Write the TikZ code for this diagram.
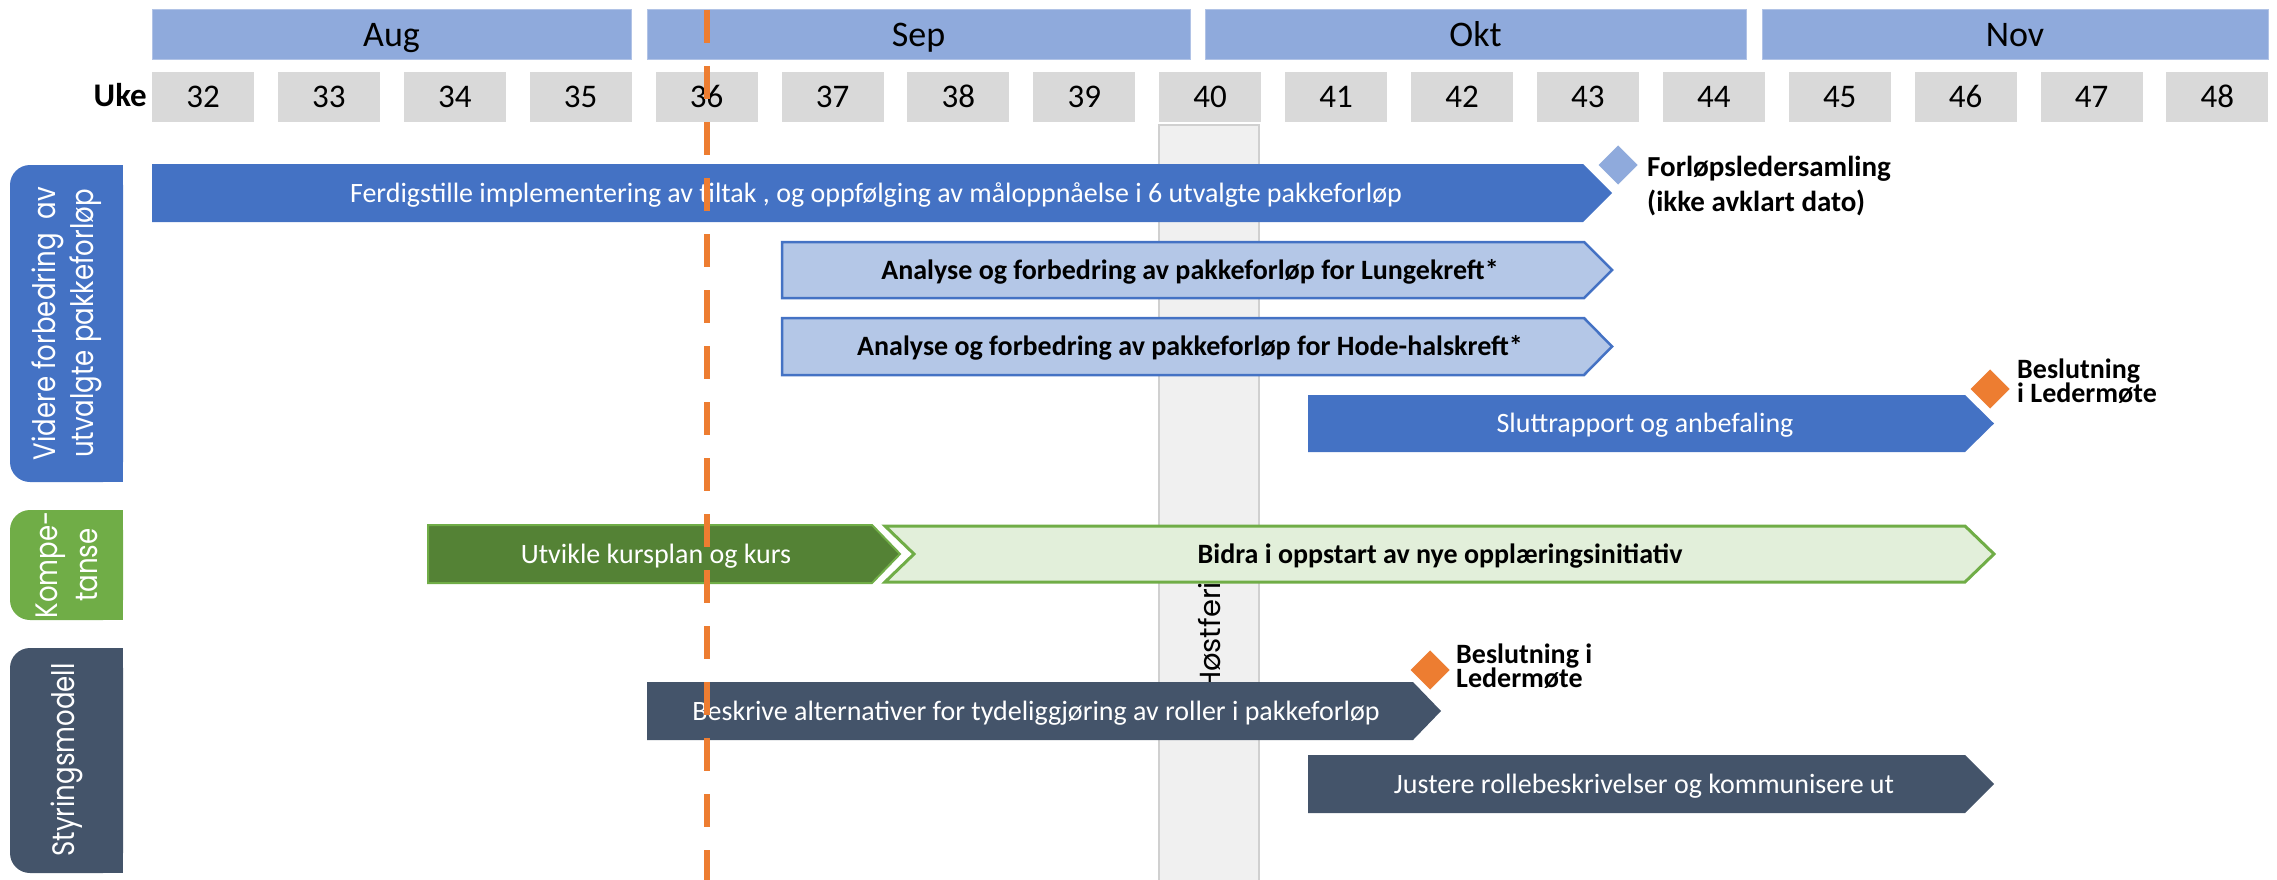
\documentclass[tikz,border=0pt]{standalone}
\usepackage{fontspec}
\setmainfont{Carlito}
\newfontfamily\labfont{Poppins}
\usepackage{graphicx}
\usetikzlibrary{shapes.geometric}
\definecolor{monthblue}{HTML}{8FAADC}
\definecolor{weekgray}{HTML}{D9D9D9}
\definecolor{barblue}{HTML}{4472C4}
\definecolor{lightblue}{HTML}{B4C7E7}
\definecolor{lanegreen}{HTML}{70AD47}
\definecolor{darkgreen}{HTML}{548235}
\definecolor{palegreen}{HTML}{E2EFDA}
\definecolor{slate}{HTML}{44546A}
\definecolor{msorange}{HTML}{ED7D31}
\definecolor{holgray}{HTML}{F0F0F0}
\definecolor{holline}{HTML}{D0D0D0}
\newcommand\tightlines{\lineskiplimit=-50pt\relax}
\tikzset{
 weekbox/.style={fill=weekgray, minimum width=102pt, minimum height=50pt, inner sep=0pt, text height=22pt, text depth=0pt, font=\fontsize{33}{36}\selectfont},
 monthbox/.style={fill=monthblue, draw=monthblue!70!white, line width=0.8pt, minimum height=50pt, inner sep=0pt, text height=26pt, text depth=0pt, font=\fontsize{36}{40}\selectfont},
 bartxt/.style={inner sep=0pt, text height=18pt, text depth=0pt, font=\fontsize{28}{32}\selectfont},
 lanelab/.style={rotate=90, text=white, align=center, inner sep=0pt, font=\labfont\fontsize{31}{38}\selectfont},
 ms/.style={diamond, draw=white, line width=3pt, minimum width=45pt, minimum height=45pt, inner sep=0pt},
 mslab/.style={anchor=north west, inner sep=0pt, align=left, font=\bfseries\fontsize{28}{24}\selectfont\tightlines}
}
\begin{document}
\begin{tikzpicture}[x=1pt,y=-1pt]
\useasboundingbox (0,0) rectangle (2277,880);
% header
\node[monthbox, minimum width=479pt] (aug) at (391.5,34) {Aug};
\node[monthbox, minimum width=543pt] (sep) at (918.5,34) {Sep};
\node[monthbox, minimum width=541pt] (okt) at (1475.5,34) {Okt};
\node[monthbox, minimum width=506pt] (nov) at (2015,34) {Nov};
\node[anchor=base east, inner sep=0pt, font=\bfseries\fontsize{33}{36}\selectfont] (uke) at (147,107) {Uke};
\foreach \w [count=\i from 0] in {32,...,48}
  \node[weekbox] (w\w) at ({203+\i*125.9},97) {\w};
% autumn holiday column
\filldraw[fill=holgray, draw=holline, line width=2pt] (1159,125) rectangle (1259,890);
\node[rotate=90, anchor=west, inner sep=0pt, font=\labfont\fontsize{29}{32}\selectfont] (host) at (1210,692) {Høstferie};
% lane labels
\fill[barblue, rounded corners=20pt] (10,165) rectangle (123,482);
\fill[barblue] (70,165) rectangle (123,482);
\node[lanelab] (lane1) at (66.5,323.5) {\scalebox{0.84}[1]{Videre forbedring\ \ av}\\\scalebox{0.84}[1]{utvalgte pakkeforløp}};
\fill[lanegreen, rounded corners=20pt] (10,510) rectangle (123,620);
\fill[lanegreen] (70,510) rectangle (123,620);
\node[lanelab, font=\labfont\fontsize{31}{40}\selectfont] (lane2) at (66.5,565) {\scalebox{0.84}[1]{Kompe-}\\\scalebox{0.84}[1]{tanse}};
\fill[slate, rounded corners=20pt] (10,648) rectangle (123,873);
\fill[slate] (70,648) rectangle (123,873);
\node[lanelab] (lane3) at (66.5,760) {\scalebox{0.84}[1]{Styringsmodell}};
% lane 1 bars
\fill[barblue] (152,164) -- (1583,164) -- (1612,193) -- (1583,222) -- (152,222) -- cycle;
\node[bartxt, text=white] (b1) at (876,193) {Ferdigstille implementering av tiltak , og oppfølging av måloppnåelse i 6 utvalgte pakkeforløp};
\filldraw[fill=lightblue, draw=barblue, line width=2.5pt] (782,242) -- (1584,242) -- (1612,270) -- (1584,298) -- (782,298) -- cycle;
\node[bartxt, font=\bfseries\fontsize{28}{32}\selectfont] (b2) at (1190,270) {Analyse og forbedring av pakkeforløp for Lungekreft*};
\filldraw[fill=lightblue, draw=barblue, line width=2.5pt] (782,318) -- (1584,318) -- (1612,346.5) -- (1584,375) -- (782,375) -- cycle;
\node[bartxt, font=\bfseries\fontsize{28}{32}\selectfont] (b3) at (1190,346.5) {Analyse og forbedring av pakkeforløp for Hode-halskreft*};
\fill[barblue] (1308,395) -- (1965,395) -- (1994,423.5) -- (1965,452) -- (1308,452) -- cycle;
\node[bartxt, text=white] (b4) at (1645,423.5) {Sluttrapport og anbefaling};
% lane 2 bars
\filldraw[fill=darkgreen, draw=lanegreen, line width=2pt] (428,525) -- (872,525) -- (900,554) -- (872,583) -- (428,583) -- cycle;
\node[bartxt, text=white] (b5) at (656,554) {Utvikle kursplan og kurs};
\filldraw[fill=palegreen, draw=lanegreen, line width=3pt] (885,526) -- (1965,526) -- (1994,554) -- (1965,582) -- (885,582) -- (914,554) -- cycle;
\node[bartxt, font=\bfseries\fontsize{28}{32}\selectfont] (b6) at (1440,554) {Bidra i oppstart av nye opplæringsinitiativ};
% lane 3 bars
\fill[slate] (647,682) -- (1413,682) -- (1441,711) -- (1413,740) -- (647,740) -- cycle;
\node[bartxt, text=white] (b7) at (1036,711) {Beskrive alternativer for tydeliggjøring av roller i pakkeforløp};
\fill[slate] (1308,755) -- (1965,755) -- (1994,784) -- (1965,813) -- (1308,813) -- cycle;
\node[bartxt, text=white] (b8) at (1644,784) {Justere rollebeskrivelser og kommunisere ut};
% milestones
\node[ms, fill=monthblue] (m1) at (1618,165) {};
\node[mslab, font=\bfseries\fontsize{29}{35}\selectfont] (m1t) at (1647,156) {Forløpsledersamling\\(ikke avklart dato)};
\node[ms, fill=msorange] (m2) at (1990,389) {};
\node[mslab] (m2t) at (2017,359) {Beslutning\\i Ledermøte};
\node[ms, fill=msorange] (m3) at (1430,670) {};
\node[mslab] (m3t) at (1456,644) {Beslutning i\\Ledermøte};
% today line
\coordinate (dtop) at (707,10);
\coordinate (dbot) at (707,880);
\draw[msorange, line width=6pt, dash pattern=on 33pt off 23pt] (dtop) -- (dbot);
\end{tikzpicture}
\end{document}
